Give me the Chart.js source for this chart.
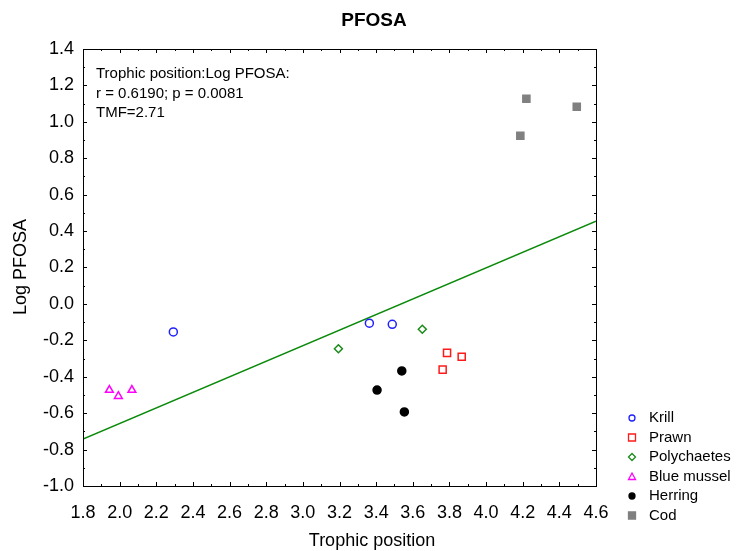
<!DOCTYPE html>
<html>
<head>
<meta charset="utf-8">
<script src="https://cdn.jsdelivr.net/npm/chart.js@4/dist/chart.umd.min.js"></script>
<style>
  body { margin: 0; background: #fff; }
  canvas { display: block; }
</style>
</head>
<body>
<canvas id="chart" width="737" height="551"></canvas>
<script>
// values
const krill = [[2.293, -0.154], [3.363, -0.106], [3.488, -0.112]];
const prawn = [[3.787, -0.269], [3.867, -0.290], [3.763, -0.361]];
const polychaetes = [[3.194, -0.246], [3.652, -0.139]];
const blueMussel = [[1.944, -0.473], [1.993, -0.507], [2.067, -0.473]];
const herring = [[3.540, -0.368], [3.405, -0.473], [3.554, -0.593]];
const cod = [[4.220, 1.127], [4.495, 1.083], [4.187, 0.924]];
const fitLine = [[1.8, -0.742], [4.6, 0.455]];

const xTicks = [1.8, 2.0, 2.2, 2.4, 2.6, 2.8, 3.0, 3.2, 3.4, 3.6, 3.8, 4.0, 4.2, 4.4, 4.6];
const yTicks = [-1.0, -0.8, -0.6, -0.4, -0.2, 0.0, 0.2, 0.4, 0.6, 0.8, 1.0, 1.2, 1.4];
const noteLines = ['Trophic position:Log PFOSA:', 'r = 0.6190; p = 0.0081', 'TMF=2.71'];

const FONT = '"Liberation Sans", Arial, sans-serif';
const pts = arr => arr.map(p => ({ x: p[0], y: p[1] }));

const series = [
  { label: 'Krill', data: krill, style: 'circle', border: '#2020ff', fill: '#ffffff', r: 4 },
  { label: 'Prawn', data: prawn, style: 'rect', border: '#ff1a1a', fill: '#ffffff', r: 5 },
  { label: 'Polychaetes', data: polychaetes, style: 'rectRot', border: '#1a8a1a', fill: '#ffffff', r: 4 },
  { label: 'Blue mussel', data: blueMussel, style: 'triangle', border: '#ff00ff', fill: '#ffffff', r: 4.5 },
  { label: 'Herring', data: herring, style: 'circle', border: '#000000', fill: '#000000', r: 4 },
  { label: 'Cod', data: cod, style: 'rect', border: '#808080', fill: '#808080', r: 5 }
];

const datasets = series.map(s => ({
  type: 'scatter',
  label: s.label,
  data: pts(s.data),
  pointStyle: s.style,
  pointRadius: s.r,
  pointBorderWidth: 1.5,
  pointBorderColor: s.border,
  pointBackgroundColor: s.fill,
  borderColor: s.border,
  backgroundColor: s.fill
}));

datasets.push({
  type: 'line',
  label: 'fit',
  data: pts(fitLine),
  borderColor: '#0a8a0a',
  borderWidth: 1.5,
  pointRadius: 0,
  fill: false
});

// frame, inward ticks, titles, note and legend
const decorations = {
  id: 'decorations',
  afterDraw(chart) {
    const ctx = chart.ctx;
    const a = chart.chartArea;
    const xs = chart.scales.x, ys = chart.scales.y;
    ctx.save();
    ctx.strokeStyle = '#000';
    ctx.lineWidth = 1;
    ctx.strokeRect(Math.round(a.left) + 0.5, Math.round(a.top) + 0.5,
      Math.round(a.right - a.left), Math.round(a.bottom - a.top));

    ctx.beginPath();
    for (let i = 0; i <= 28; i++) {
      const v = 1.8 + i * 0.1;
      const px = Math.round(xs.getPixelForValue(v)) + 0.5;
      const len = i % 2 === 0 ? 4 : 2;
      ctx.moveTo(px, a.bottom); ctx.lineTo(px, a.bottom - len);
      ctx.moveTo(px, a.top); ctx.lineTo(px, a.top + len);
    }
    for (let i = 0; i <= 24; i++) {
      const v = -1.0 + i * 0.1;
      const py = Math.round(ys.getPixelForValue(v)) + 0.5;
      const len = i % 2 === 0 ? 4 : 2;
      ctx.moveTo(a.left, py); ctx.lineTo(a.left + len, py);
      ctx.moveTo(a.right, py); ctx.lineTo(a.right - len, py);
    }
    ctx.stroke();

    ctx.fillStyle = '#000';
    ctx.textBaseline = 'middle';
    ctx.textAlign = 'center';
    ctx.font = 'bold 19px ' + FONT;
    ctx.fillText('PFOSA', 374, 21);
    ctx.font = '18px ' + FONT;
    ctx.fillText('Trophic position', 372, 541);
    ctx.save();
    ctx.translate(21, 267);
    ctx.rotate(-Math.PI / 2);
    ctx.fillText('Log PFOSA', 0, 0);
    ctx.restore();

    ctx.textAlign = 'left';
    ctx.font = '15px ' + FONT;
    noteLines.forEach((t, i) => ctx.fillText(t, 96, 74 + i * 19.5));

    let ly = 418;
    series.forEach(s => {
      ctx.lineWidth = 1.3;
      ctx.strokeStyle = s.border;
      ctx.fillStyle = s.fill;
      const mx = 632;
      ctx.beginPath();
      if (s.style === 'circle') {
        ctx.arc(mx, ly, 3, 0, Math.PI * 2);
      } else if (s.style === 'rect') {
        ctx.rect(mx - 3.5, ly - 3.5, 7, 7);
      } else if (s.style === 'rectRot') {
        ctx.moveTo(mx, ly - 3.5); ctx.lineTo(mx + 3.5, ly);
        ctx.lineTo(mx, ly + 3.5); ctx.lineTo(mx - 3.5, ly); ctx.closePath();
      } else if (s.style === 'triangle') {
        ctx.moveTo(mx, ly - 3.5); ctx.lineTo(mx + 3.5, ly + 3);
        ctx.lineTo(mx - 3.5, ly + 3); ctx.closePath();
      }
      ctx.fill();
      ctx.stroke();
      ctx.fillStyle = '#000';
      ctx.fillText(s.label, 649, ly);
      ly += 19.5;
    });
    ctx.restore();
  }
};

new Chart(document.getElementById('chart'), {
  type: 'scatter',
  data: { datasets },
  options: {
    responsive: false,
    animation: false,
    layout: { padding: { top: 49, right: 141, left: 0, bottom: 0 } },
    plugins: {
      legend: { display: false },
      tooltip: { enabled: false }
    },
    scales: {
      x: {
        type: 'linear',
        min: 1.8,
        max: 4.6,
        afterFit: s => { s.height = 65; },
        afterBuildTicks: s => { s.ticks = xTicks.map(v => ({ value: v })); },
        grid: { display: false, drawTicks: false },
        border: { display: false },
        ticks: {
          padding: 16,
          color: '#000',
          font: { family: FONT, size: 18 },
          maxRotation: 0,
          autoSkip: false,
          callback: v => Number(v).toFixed(1)
        }
      },
      y: {
        type: 'linear',
        min: -1.0,
        max: 1.4,
        afterFit: s => { s.width = 83; },
        afterBuildTicks: s => { s.ticks = yTicks.map(v => ({ value: v })); },
        grid: { display: false, drawTicks: false },
        border: { display: false },
        ticks: {
          padding: 9,
          color: '#000',
          font: { family: FONT, size: 18 },
          autoSkip: false,
          callback: v => Number(v).toFixed(1)
        }
      }
    }
  },
  plugins: [decorations]
});
</script>
</body>
</html>
